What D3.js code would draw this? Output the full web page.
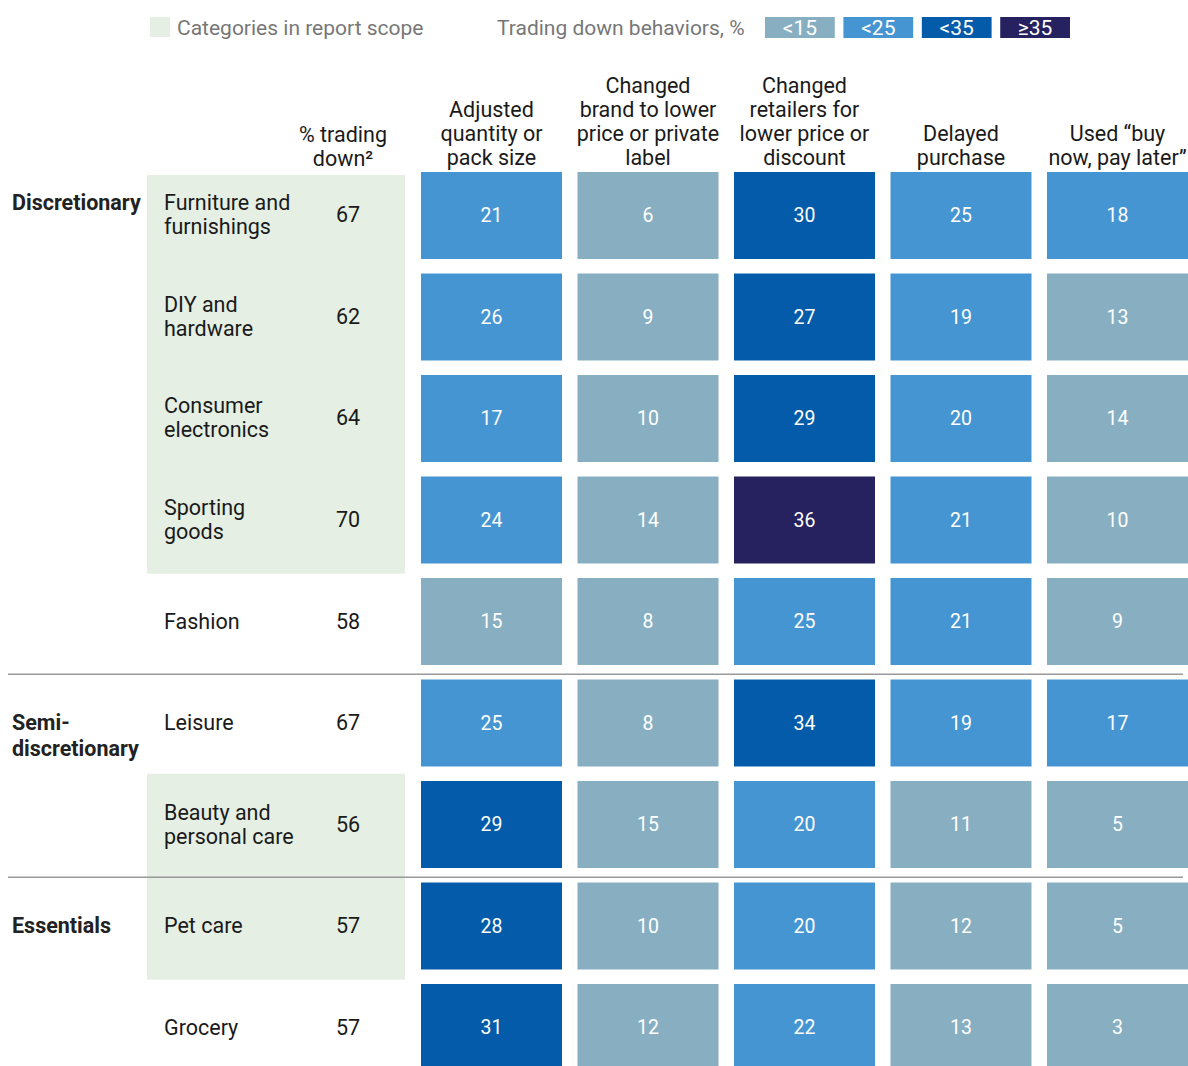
<!DOCTYPE html>
<html>
<head>
<meta charset="utf-8">
<script src="https://cdn.jsdelivr.net/npm/d3@7"></script>
<style>
  body { margin: 0; background: #fff; }
  svg text { font-family: Roboto, "Noto Sans", sans-serif; }
</style>
</head>
<body>
<div id="chart"></div>
<script>
// data
const categories = ["Furniture and\nfurnishings", "DIY and\nhardware", "Consumer\nelectronics", "Sporting\ngoods",
  "Fashion", "Leisure", "Beauty and\npersonal care", "Pet care", "Grocery"]
const tradingDown = [67, 62, 64, 70, 58, 67, 56, 57, 57]
const inScope = [true, true, true, true, false, false, true, true, false]
const groups = ["Discretionary", "Semi-\ndiscretionary", "Essentials"]
const groupStart = [0, 5, 7]
const behaviors = ["Adjusted\nquantity or\npack size", "Changed\nbrand to lower\nprice or private\nlabel",
  "Changed\nretailers for\nlower price or\ndiscount", "Delayed\npurchase", "Used \u201cbuy\nnow, pay later\u201d"]
const adjustedQty = [21, 26, 17, 24, 15, 25, 29, 28, 31]
const changedBrand = [6, 9, 10, 14, 8, 8, 15, 10, 12]
const changedRetailer = [30, 27, 29, 36, 25, 34, 20, 20, 22]
const delayedPurchase = [25, 19, 20, 21, 21, 19, 11, 12, 13]
const usedBnpl = [18, 13, 14, 10, 9, 17, 5, 5, 3]
const legendLabels = ["<15", "<25", "<35", "\u226535"]
// shown values are rounded; bin edges picked so the colours match the source
const thresholds = [15.5, 26.5, 35]

const series = [adjustedQty, changedBrand, changedRetailer, delayedPurchase, usedBnpl]

const W = 1188, H = 1066
const FS = 21.5
const svg = d3.select("#chart").append("svg")
  .attr("width", W).attr("height", H)

const color = d3.scaleThreshold()
  .domain(thresholds)
  .range(["#88afc1", "#4695d3", "#035ba9", "#26215f"])

const x = d3.scaleBand()
  .domain(d3.range(behaviors.length))
  .range([421, 1188])
  .paddingInner(0.099)

const y = d3.scaleBand()
  .domain(d3.range(categories.length))
  .range([172, 1071])
  .paddingInner(0.143)

const gap = y.step() - y.bandwidth()

/* LEGEND */
const legend = svg.append("g")
legend.append("rect")
  .attr("x", 150).attr("y", 17).attr("width", 20).attr("height", 20)
  .attr("fill", "#e5efe4")
legend.append("text")
  .attr("x", 177).attr("y", 35)
  .attr("font-size", 21).attr("fill", "#777")
  .text("Categories in report scope")
legend.append("text")
  .attr("x", 497).attr("y", 35)
  .attr("font-size", 21).attr("fill", "#777")
  .text("Trading down behaviors, %")

const lx = d3.scaleBand()
  .domain(legendLabels)
  .range([765, 1070])
  .paddingInner(0.11)

legendLabels.forEach((l, i) => {
  legend.append("rect")
    .attr("x", lx(l)).attr("y", 17)
    .attr("width", lx.bandwidth()).attr("height", 21)
    .attr("fill", color.range()[i])
  legend.append("text")
    .attr("x", lx(l) + lx.bandwidth() / 2).attr("y", 35)
    .attr("text-anchor", "middle")
    .attr("font-size", 21).attr("fill", "#fff")
    .text(l)
})

/* GREEN SCOPE BANDS */
const runs = []
inScope.forEach((s, i) => {
  if (!s) return
  const last = runs[runs.length - 1]
  if (last && last.end === i - 1) last.end = i
  else runs.push({start: i, end: i})
})
const bandTop = d => d.start === 0 ? y(0) + 3 : y(d.start) - gap / 2
svg.append("g").selectAll("rect")
  .data(runs)
  .join("rect")
  .attr("x", 147)
  .attr("width", 258)
  .attr("y", bandTop)
  .attr("height", d => y(d.end) + y.bandwidth() + gap / 2 + 3 - bandTop(d))
  .attr("fill", "#e5efe4")

/* SEPARATORS */
svg.append("g").selectAll("line")
  .data(groupStart.slice(1))
  .join("line")
  .attr("x1", 8).attr("x2", 1183)
  .attr("y1", d => y(d) - gap / 2 + 2)
  .attr("y2", d => y(d) - gap / 2 + 2)
  .attr("stroke", "#999")
  .attr("stroke-width", 1.5)

/* HEADERS */
const lineH = 24
function multiline(g, txt, cx, baseline, anchor) {
  const lines = txt.split("\n")
  const t = g.append("text")
    .attr("text-anchor", anchor)
    .attr("font-size", FS)
    .attr("fill", "#1a1a1a")
  lines.forEach((l, k) => {
    t.append("tspan")
      .attr("x", cx)
      .attr("y", baseline - (lines.length - 1 - k) * lineH)
      .text(l)
  })
  return t
}

const header = svg.append("g")
behaviors.forEach((b, i) => {
  multiline(header, b, x(i) + x.bandwidth() / 2, 165, "middle")
})
multiline(header, "% trading\ndown\u00b2", 343, 166, "middle")

/* ROW LABELS */
const rows = svg.append("g")
const firstBase = []
categories.forEach((c, i) => {
  const lines = c.split("\n")
  const cy = y(i) + y.bandwidth() / 2
  const base = cy + 7 - (lines.length - 1) * lineH / 2
  firstBase.push(base)
  const t = rows.append("text")
    .attr("font-size", FS).attr("fill", "#1a1a1a")
  lines.forEach((l, k) => {
    t.append("tspan").attr("x", 164).attr("y", base + k * lineH).text(l)
  })
  rows.append("text")
    .attr("x", 348).attr("y", cy + 7)
    .attr("text-anchor", "middle")
    .attr("font-size", FS).attr("fill", "#1a1a1a")
    .text(tradingDown[i])
})

/* GROUP LABELS */
groups.forEach((g, i) => {
  const lines = g.split("\n")
  const t = rows.append("text")
    .attr("font-size", FS).attr("font-weight", "bold").attr("fill", "#222")
  lines.forEach((l, k) => {
    t.append("tspan").attr("x", 12).attr("y", firstBase[groupStart[i]] + k * 26).text(l)
  })
})

/* CELLS */
const cells = []
series.forEach((s, j) => s.forEach((v, i) => cells.push({i, j, v})))

const cell = svg.append("g").selectAll("g")
  .data(cells)
  .join("g")
  .attr("transform", d => `translate(${x(d.j)},${y(d.i)})`)

cell.append("rect")
  .attr("width", x.bandwidth())
  .attr("height", y.bandwidth())
  .attr("fill", d => color(d.v))

cell.append("text")
  .attr("x", x.bandwidth() / 2)
  .attr("y", y.bandwidth() / 2 + 7)
  .attr("text-anchor", "middle")
  .attr("font-size", 19.5)
  .attr("fill", "#fff")
  .text(d => d.v)
</script>
</body>
</html>
